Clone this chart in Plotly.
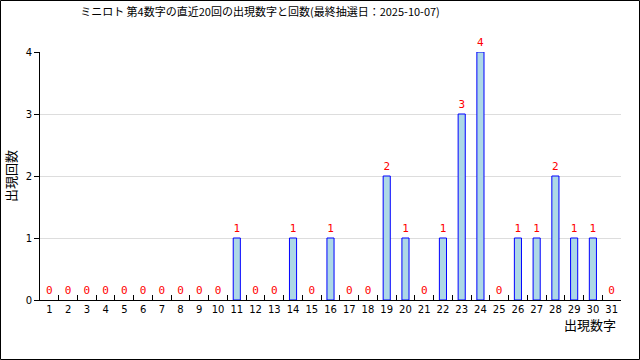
import plotly.graph_objects as go

numbers = [str(i) for i in range(1, 32)]
counts = [0, 0, 0, 0, 0, 0, 0, 0, 0, 0,
          1, 0, 0, 1, 0, 1, 0, 0, 2, 1,
          0, 1, 3, 4, 0, 1, 1, 2, 1, 1, 0]
title_text = "ミニロト 第4数字の直近20回の出現数字と回数(最終抽選日：2025-10-07)"

W, H = 640, 360
ml, mr, mt, mb = 40, 19, 52, 60
pw, ph = W - ml - mr, H - mt - mb

fig = go.Figure(go.Bar(
    x=numbers, y=counts, width=0.38,
    marker=dict(color="lightblue",
                line=dict(color="blue", width=[1 if c > 0 else 0 for c in counts])),
    text=[str(c) for c in counts], textposition="outside",
    textfont=dict(color="red", size=11, family="DejaVu Sans Mono"),
    cliponaxis=False,
))

jp = "Noto Sans CJK JP"
fig.update_layout(
    width=W, height=H, margin=dict(l=ml, r=mr, t=mt, b=mb, autoexpand=False),
    paper_bgcolor="white", plot_bgcolor="white", showlegend=False,
    title=dict(text=title_text, x=260 / W, xanchor="center", y=1 - 12 / H, yanchor="middle",
               font=dict(family=jp, size=11, color="black")),
    font=dict(family="DejaVu Sans", size=10, color="black"),
    xaxis=dict(type="category", tickson="boundaries", ticks="inside", ticklen=5,
               tickcolor="black", showline=True, linecolor="black", linewidth=1,
               showgrid=False, tickangle=0, automargin=False,
               tickfont=dict(size=10, family="DejaVu Sans"), range=[-0.5, 30.5]),
    yaxis=dict(range=[0, 4], dtick=1, ticks="outside", ticklen=5, tickcolor="black",
               showline=True, linecolor="black", linewidth=1, showgrid=True, automargin=False,
               gridcolor="#dddddd", zeroline=False, tickfont=dict(size=10)),
    annotations=[
        dict(text="出現数字", xref="paper", yref="paper", x=1 - (W - mr - 618) / pw,
             y=-(324 - (mt + ph)) / ph, xanchor="right", yanchor="middle", showarrow=False,
             font=dict(family=jp, size=13, color="black")),
        dict(text="出現回数", xref="paper", yref="paper", x=-(ml - 10) / pw, y=0.5,
             textangle=-90, xanchor="center", yanchor="middle", showarrow=False,
             font=dict(family=jp, size=13, color="black")),
    ],
    shapes=[dict(type="rect", xref="paper", yref="paper",
                 x0=-(ml - 0.5) / pw, x1=1 + (mr - 0.5) / pw,
                 y0=-(mb - 0.5) / ph, y1=1 + (mt - 0.5) / ph,
                 line=dict(color="black", width=1), layer="above")],
)

fig.write_html("out.html", config={"displayModeBar": False},
               post_script="document.body.style.margin='0';")
